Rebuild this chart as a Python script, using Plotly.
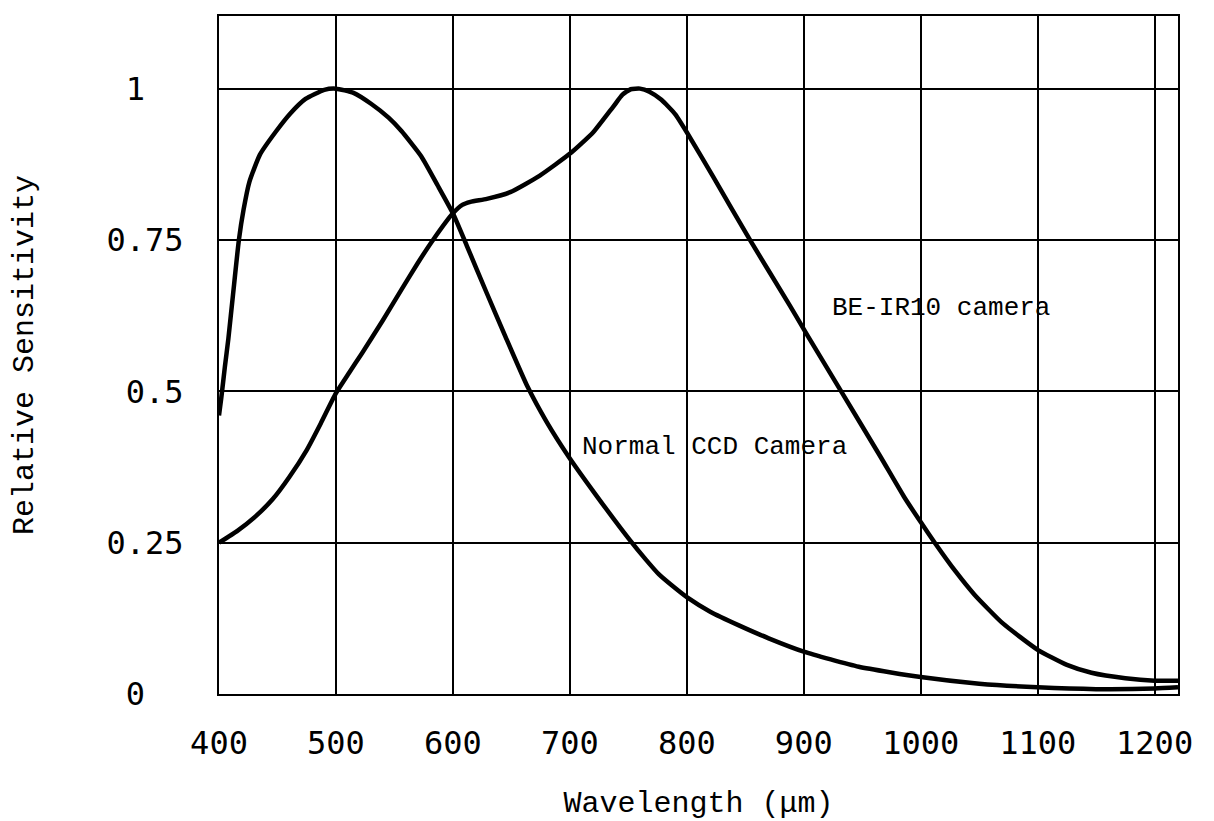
import plotly.graph_objects as go

# ---- data ----
ccd_wavelength = [400, 402, 405, 408, 412, 417, 421, 426, 435, 449, 461, 474, 490, 500, 515, 530,
                  545, 556, 573, 587, 600, 612, 629, 645, 664, 680, 699, 723, 751, 765, 776, 790,
                  800, 820, 845, 870, 900, 947, 1000, 1050, 1100, 1150, 1200, 1220]
ccd_sensitivity = [0.46, 0.49, 0.54, 0.587, 0.66, 0.75, 0.80, 0.846, 0.891, 0.93, 0.959, 0.983,
                   0.998, 1.0, 0.993, 0.975, 0.952, 0.93, 0.888, 0.84, 0.794, 0.74, 0.662, 0.59,
                   0.507, 0.45, 0.392, 0.327, 0.255, 0.222, 0.198, 0.175, 0.16, 0.136, 0.113,
                   0.092, 0.07, 0.045, 0.028, 0.017, 0.011, 0.008, 0.009, 0.011]

be_wavelength = [400, 416, 431, 446, 460, 475, 487, 500, 511, 522, 540, 556, 570, 583, 600, 608,
                 615, 629, 649, 674, 701, 720, 737, 745, 752, 760, 768, 778, 790, 800, 823, 854,
                 888, 903, 932, 965, 986, 1000, 1012, 1030, 1046, 1070, 1100, 1125, 1146, 1175,
                 1200, 1220]
be_sensitivity = [0.25, 0.27, 0.293, 0.322, 0.358, 0.403, 0.447, 0.497, 0.53, 0.562, 0.617, 0.668,
                  0.712, 0.75, 0.794, 0.808, 0.813, 0.818, 0.829, 0.856, 0.894, 0.928, 0.97, 0.99,
                  0.999, 1.0, 0.995, 0.982, 0.958, 0.928, 0.853, 0.75, 0.642, 0.593, 0.5, 0.394,
                  0.325, 0.284, 0.25, 0.202, 0.164, 0.117, 0.073, 0.048, 0.035, 0.026, 0.022, 0.022]

x_ticks = [400, 500, 600, 700, 800, 900, 1000, 1100, 1200]
y_ticks = [0, 0.25, 0.5, 0.75, 1]
# non-breaking spaces reproduce the looser placement of the single-digit labels
y_tick_labels = ["0\u00a0\u00a0", "0.25", "0.5", "0.75", "1\u00a0\u00a0"]

curve_labels = ["Normal CCD Camera", "BE-IR10 camera"]

fig = go.Figure()
fig.add_trace(go.Scatter(x=ccd_wavelength, y=ccd_sensitivity, mode="lines",
                         line=dict(color="black", width=4.5, shape="spline", smoothing=0.5),
                         name=curve_labels[0]))
fig.add_trace(go.Scatter(x=be_wavelength, y=be_sensitivity, mode="lines",
                         line=dict(color="black", width=4.5, shape="spline", smoothing=0.5),
                         name=curve_labels[1]))

fig.add_annotation(x=824, y=0.408, text=curve_labels[0], showarrow=False,
                   font=dict(family="Liberation Mono", size=26, color="black"))
fig.add_annotation(x=1017, y=0.638, text=curve_labels[1], showarrow=False,
                   font=dict(family="Liberation Mono", size=26, color="black"))

fig.update_layout(
    width=1214, height=821,
    margin=dict(l=211, r=44, t=8, b=135, autoexpand=False),
    paper_bgcolor="white", plot_bgcolor="white",
    showlegend=False,
)
fig.update_xaxes(
    range=[400, 1220], tickvals=x_ticks, ticktext=[str(v) for v in x_ticks],
    showgrid=True, gridcolor="black", gridwidth=2, zeroline=False,
    showline=True, mirror=True, linecolor="black", linewidth=2,
    ticks="", ticklabelstandoff=20,
    tickfont=dict(family="DejaVu Sans Mono", size=32, color="black"),
    title=dict(text="Wavelength (μm)", standoff=30,
               font=dict(family="Liberation Mono", size=30, color="black")),
    automargin=False,
)
fig.update_yaxes(
    range=[0, 1.12], tickvals=y_ticks, ticktext=y_tick_labels,
    showgrid=True, gridcolor="black", gridwidth=2, zeroline=False,
    showline=True, mirror=True, linecolor="black", linewidth=2,
    ticks="", ticklabelstandoff=27,
    tickfont=dict(family="DejaVu Sans Mono", size=32, color="black"),
    title=dict(text="Relative Sensitivity", standoff=66,
               font=dict(family="Liberation Mono", size=30, color="black")),
    automargin=False,
)

fig.write_html("out.html")
